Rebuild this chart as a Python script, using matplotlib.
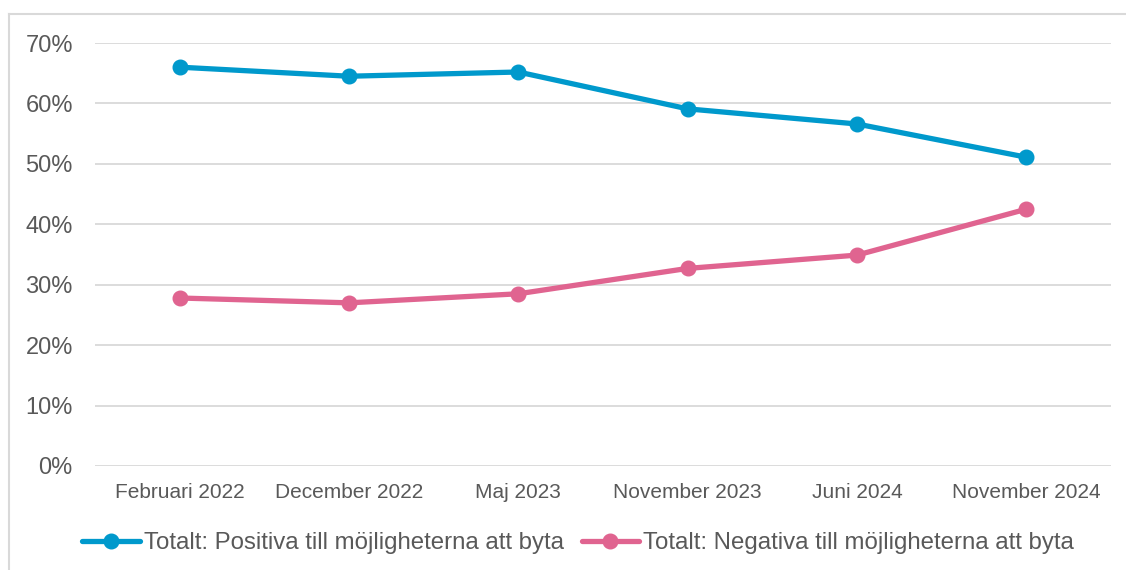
import matplotlib
matplotlib.use("Agg")
import matplotlib.pyplot as plt
from matplotlib.lines import Line2D
from matplotlib.ticker import FuncFormatter

categories = ["Februari 2022", "December 2022", "Maj 2023", "November 2023", "Juni 2024", "November 2024"]
positiva = [66.0, 64.5, 65.2, 59.1, 56.6, 51.1]
negativa = [27.8, 27.0, 28.5, 32.7, 34.9, 42.5]
series_names = ["Totalt: Positiva till möjligheterna att byta", "Totalt: Negativa till möjligheterna att byta"]
yticks = [0, 10, 20, 30, 40, 50, 60, 70]

plt.rcParams['font.family'] = ['Liberation Sans', 'DejaVu Sans']

fig = plt.figure(figsize=(11.26, 5.70), dpi=100)
ax = fig.add_axes([95/1126, 1-466/570, (1111-95)/1126, (466-43)/570])

blue = "#0099CC"
pink = "#E06490"
x = list(range(len(categories)))
ax.plot(x, positiva, color=blue, lw=3.8, marker='o', ms=10.5, label=series_names[0], solid_capstyle='round')
ax.plot(x, negativa, color=pink, lw=3.8, marker='o', ms=10.5, label=series_names[1], solid_capstyle='round')

ax.set_xlim(-0.5, len(categories)-0.5)
ax.set_ylim(0, 70)
ax.set_yticks(yticks)
ax.yaxis.set_major_formatter(FuncFormatter(lambda v, p: f"{int(v)}%"))
ax.set_xticks(x)
ax.set_xticklabels(categories)
ax.grid(axis='y', color='#D9D9D9', lw=1.3)
ax.set_axisbelow(True)
for s in ax.spines.values():
    s.set_visible(False)
ax.tick_params(axis='both', length=0, colors='#595959')
ax.tick_params(axis='y', labelsize=17, pad=16)
ax.tick_params(axis='x', labelsize=15, pad=12)

leg = fig.legend(loc='center', bbox_to_anchor=(578/1126, 1-543/570), ncol=2, frameon=False,
                 fontsize=17.3, handlelength=2.4, handletextpad=0.15, columnspacing=0.75,
                 labelcolor='#595959')

fig.add_artist(Line2D([9/1126, 9/1126], [0, 1-14/570], transform=fig.transFigure, color='#D9D9D9', lw=1.5))
fig.add_artist(Line2D([9/1126, 1], [1-14/570, 1-14/570], transform=fig.transFigure, color='#D9D9D9', lw=1.5))

fig.savefig("out.png", dpi=100, facecolor='white')
